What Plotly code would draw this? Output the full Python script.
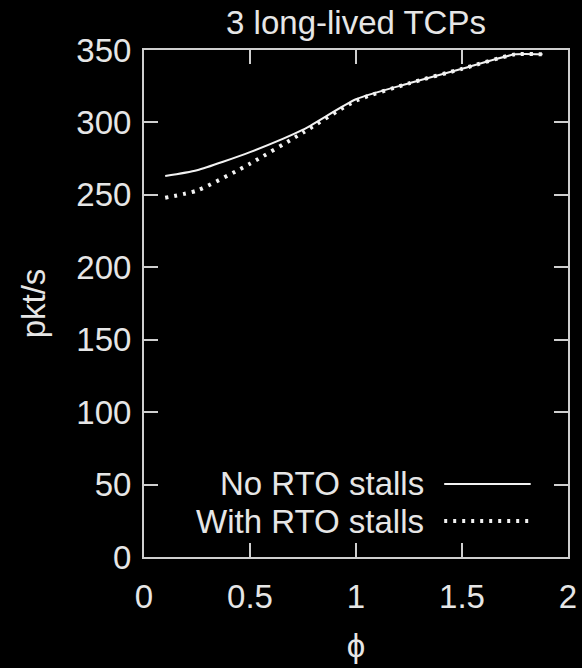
import plotly.graph_objects as go

phi = [0.1, 0.25, 0.5, 0.75, 1.0, 1.25, 1.5, 1.75, 1.88]
no_rto = [263, 267, 279.5, 295, 316, 327, 337, 347, 347]
with_rto = [248, 253, 271.5, 293, 315, 327, 337, 347, 347]
series_names = ["No RTO stalls", "With RTO stalls"]
x_ticks = [0, 0.5, 1, 1.5, 2]
x_tick_labels = ["0", "0.5", "1", "1.5", "2"]
y_ticks = [0, 50, 100, 150, 200, 250, 300, 350]

FG = "#e6e6e6"
AX = "#cfcfcf"
FONT = "Liberation Sans, Arial, sans-serif"
FS = 33

fig = go.Figure()
fig.add_trace(go.Scatter(x=phi, y=no_rto, mode="lines", name=series_names[0],
                         line=dict(color="#f2f2f2", width=2, shape="spline", smoothing=0.6),
                         showlegend=False))
fig.add_trace(go.Scatter(x=phi, y=with_rto, mode="lines", name=series_names[1],
                         line=dict(color="#f2f2f2", width=4, dash="3px,6px", shape="spline", smoothing=0.6),
                         showlegend=False))

# gnuplot-style key: text right-aligned, sample to the right
key_rows = [(series_names[0], 0.144, "solid", 2), (series_names[1], 0.071, "3px,6px", 4)]
for name, yy, dash, w in key_rows:
    fig.add_annotation(x=0.665, y=yy, xref="paper", yref="paper", text=name,
                       showarrow=False, xanchor="right", yanchor="middle",
                       font=dict(family=FONT, size=FS, color=FG))
    fig.add_shape(type="line", xref="paper", yref="paper", x0=0.708, x1=0.912, y0=yy, y1=yy,
                  line=dict(color="#f2f2f2", width=w, dash=dash))

fig.update_layout(
    width=582, height=668,
    paper_bgcolor="black", plot_bgcolor="black",
    margin=dict(l=144, r=14, t=50, b=111),
    font=dict(family=FONT, size=FS, color=FG),
    title=dict(text="3 long-lived TCPs", x=0.5, xanchor="center", xref="paper",
               y=0.966, yanchor="middle", font=dict(family=FONT, size=FS, color=FG)),
)
fig.update_xaxes(range=[0, 2], tickvals=x_ticks, ticktext=x_tick_labels,
                 ticks="inside", ticklen=14, tickwidth=2, tickcolor=AX,
                 showline=True, linecolor=AX, linewidth=2, mirror="allticks",
                 showgrid=False, zeroline=False, ticklabelstandoff=9, automargin=False,
                 title=dict(text="ϕ", standoff=20, font=dict(family=FONT, size=FS, color=FG)))
fig.update_yaxes(range=[0, 350], tickvals=y_ticks,
                 ticks="inside", ticklen=14, tickwidth=2, tickcolor=AX,
                 showline=True, linecolor=AX, linewidth=2, mirror="allticks",
                 showgrid=False, zeroline=False, ticklabelstandoff=4, automargin=False,
                 title=dict(text="pkt/s", standoff=21, font=dict(family=FONT, size=FS, color=FG)))

fig.write_html("out.html", config={"displayModeBar": False},
               post_script="document.body.style.margin='0px';document.body.style.background='black';")
